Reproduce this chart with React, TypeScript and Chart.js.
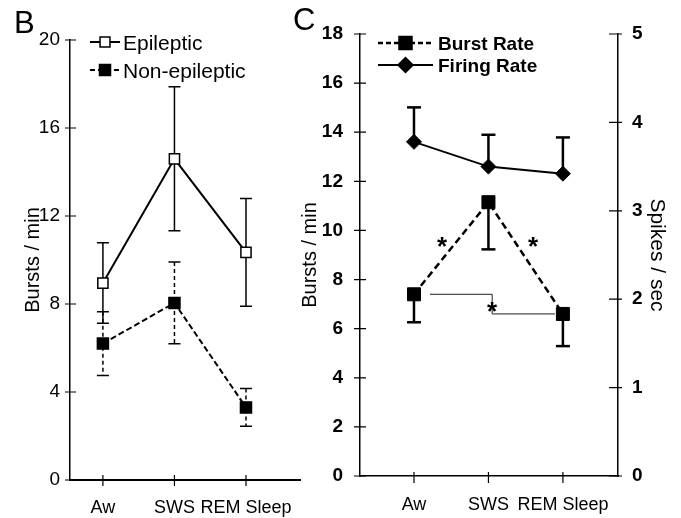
import React, { useEffect, useRef } from "react";
import { Chart, registerables } from "chart.js";

Chart.register(...registerables);

// Sleep–wake stages shared by both panels
const stages = ["Aw", "SWS", "REM Sleep"];
const stagePos = [1, 2, 3];

// Panel B: burst rate by patient group (mean ± SEM, bursts/min)
const epilepticMean = [8.95, 14.6, 10.35];
const epilepticSem = [1.83, 3.27, 2.45];
const nonEpilepticMean = [6.2, 8.05, 3.3];
const nonEpilepticSem = [1.45, 1.86, 0.86];
const burstTicksB = [0, 4, 8, 12, 16, 20];

// Panel C: burst rate (bursts/min, left axis) and firing rate (spikes/sec, right axis)
const burstRate = [7.4, 11.15, 6.6];
const burstRateSem = [1.14, 1.92, 1.31];
const firingRate = [3.78, 3.5, 3.42];
const firingRateSem = [0.39, 0.36, 0.41];
const burstTicksC = [0, 2, 4, 6, 8, 10, 12, 14, 16, 18];
const spikeTicksC = [0, 1, 2, 3, 4, 5];

// Significance marks for panel C (x in stage units, y in bursts/min)
const sigStars = [
  { x: 1.376, y: 9.6 },
  { x: 2.6, y: 9.6 },
  { x: 2.05, y: 6.96 },
];
const sigBracket = { from: 0, to: 2, turnAt: 2.05 };

const FONT = "'Liberation Sans', Arial, Helvetica, sans-serif";
const INK = "#000";

function drawMarker(ctx: any, style: string, x: number, y: number, r: number, fill: string) {
  ctx.save();
  ctx.setLineDash([]);
  ctx.beginPath();
  if (style === "rectRot") {
    ctx.moveTo(x - r, y);
    ctx.lineTo(x, y - r);
    ctx.lineTo(x + r, y);
    ctx.lineTo(x, y + r);
    ctx.closePath();
  } else {
    const h = Math.SQRT1_2 * r;
    ctx.rect(x - h, y - h, 2 * h, 2 * h);
  }
  ctx.fillStyle = fill;
  ctx.fill();
  ctx.lineWidth = 1.5;
  ctx.strokeStyle = INK;
  ctx.stroke();
  ctx.restore();
}

// Vertical error whiskers with caps, drawn beneath the lines and markers
const errorBarsPlugin = {
  id: "errorBars",
  beforeDatasetsDraw(chart: any) {
    const ctx = chart.ctx;
    chart.data.datasets.forEach((ds: any, i: number) => {
      const eb = ds.errorBars;
      if (!eb) return;
      const meta = chart.getDatasetMeta(i);
      const xs = chart.scales[meta.xAxisID];
      const ys = chart.scales[meta.yAxisID];
      ctx.save();
      ctx.strokeStyle = INK;
      ctx.lineWidth = eb.width;
      ds.data.forEach((p: any, j: number) => {
        const e = eb.values[j];
        const x = xs.getPixelForValue(p.x);
        const yTop = ys.getPixelForValue(eb.up ? p.y + e : p.y);
        const yBot = ys.getPixelForValue(eb.down ? p.y - e : p.y);
        ctx.setLineDash(eb.dash || []);
        ctx.beginPath();
        ctx.moveTo(x, yTop);
        ctx.lineTo(x, yBot);
        ctx.stroke();
        ctx.setLineDash([]);
        ctx.lineWidth = eb.capWidth;
        ctx.beginPath();
        if (eb.up) {
          ctx.moveTo(x - eb.cap, yTop);
          ctx.lineTo(x + eb.cap, yTop);
        }
        if (eb.down) {
          ctx.moveTo(x - eb.cap, yBot);
          ctx.lineTo(x + eb.cap, yBot);
        }
        ctx.stroke();
        ctx.lineWidth = eb.width;
      });
      ctx.restore();
    });
  },
};

// Tick marks that cross the axis lines
function crossTicksPlugin(spec: Record<string, [number, number]>) {
  return {
    id: "crossTicks",
    afterDraw(chart: any) {
      const ctx = chart.ctx;
      ctx.save();
      ctx.strokeStyle = INK;
      ctx.lineWidth = 1.2;
      Object.keys(spec).forEach((id) => {
        const s = chart.scales[id];
        if (!s) return;
        const [a, b] = spec[id];
        ctx.beginPath();
        s.ticks.forEach((t: any) => {
          const p = s.getPixelForValue(t.value);
          if (s.isHorizontal()) {
            ctx.moveTo(p, s.top + a);
            ctx.lineTo(p, s.top + b);
          } else {
            const ax = s.position === "left" ? s.right : s.left;
            ctx.moveTo(ax + a, p);
            ctx.lineTo(ax + b, p);
          }
        });
        ctx.stroke();
      });
      ctx.restore();
    },
  };
}

// Key listing each series with its line style and marker
function keyPlugin(cfg: any) {
  return {
    id: "seriesKey",
    afterDraw(chart: any) {
      const ctx = chart.ctx;
      ctx.save();
      chart.data.datasets.forEach((ds: any, i: number) => {
        const y = cfg.rows[i];
        const x0 = cfg.x;
        const x1 = cfg.x + cfg.lineLen;
        ctx.strokeStyle = INK;
        ctx.lineWidth = ds.borderWidth;
        ctx.setLineDash(cfg.dash[i] || []);
        ctx.beginPath();
        ctx.moveTo(x0, y);
        ctx.lineTo(x1, y);
        ctx.stroke();
        drawMarker(ctx, ds.pointStyle, (x0 + x1) / 2, y, cfg.markerR[i], ds.pointBackgroundColor);
        ctx.fillStyle = INK;
        ctx.font = cfg.font;
        ctx.textBaseline = "alphabetic";
        ctx.textAlign = "left";
        ctx.fillText(ds.label, x1 + cfg.textGap, y + cfg.baselineShift);
      });
      ctx.restore();
    },
  };
}

function panelLetterPlugin(letter: string, x: number, y: number) {
  return {
    id: "panelLetter",
    afterDraw(chart: any) {
      const ctx = chart.ctx;
      ctx.save();
      ctx.fillStyle = INK;
      ctx.font = `31px ${FONT}`;
      ctx.textBaseline = "alphabetic";
      ctx.fillText(letter, x, y);
      ctx.restore();
    },
  };
}

// Significance bracket and asterisks on panel C
const significancePlugin = {
  id: "significance",
  afterDatasetsDraw(chart: any) {
    const ctx = chart.ctx;
    const xs = chart.scales.x;
    const ys = chart.scales.y;
    ctx.save();
    ctx.strokeStyle = "#222";
    ctx.lineWidth = 1;
    ctx.setLineDash([]);
    const xa = xs.getPixelForValue(stagePos[sigBracket.from]) + 16;
    const xb = xs.getPixelForValue(stagePos[sigBracket.to]) - 8;
    const xm = xs.getPixelForValue(sigBracket.turnAt);
    const ya = ys.getPixelForValue(burstRate[sigBracket.from]);
    const yb = ys.getPixelForValue(burstRate[sigBracket.to]);
    ctx.beginPath();
    ctx.moveTo(xa, ya);
    ctx.lineTo(xm, ya);
    ctx.lineTo(xm, yb);
    ctx.lineTo(xb, yb);
    ctx.stroke();
    ctx.fillStyle = INK;
    ctx.font = `bold 26px ${FONT}`;
    ctx.textAlign = "center";
    ctx.textBaseline = "alphabetic";
    sigStars.forEach((s) => {
      ctx.fillText("*", xs.getPixelForValue(s.x), ys.getPixelForValue(s.y) + 15);
    });
    ctx.restore();
  },
};

function stageAxis(min: number, max: number, height: number, pad: number, borderWidth: number) {
  return {
    type: "linear",
    min,
    max,
    afterBuildTicks: (s: any) => {
      s.ticks = stagePos.map((v) => ({ value: v }));
    },
    afterFit: (s: any) => {
      s.height = height;
    },
    ticks: {
      autoSkip: false,
      maxRotation: 0,
      padding: pad,
      color: INK,
      font: { family: FONT, size: 18 },
      callback: (_v: any, i: number) => stages[i],
    },
    grid: { display: false, drawTicks: false },
    border: { display: true, color: INK, width: borderWidth },
  };
}

function valueAxis(opts: any) {
  return {
    position: opts.position,
    min: opts.min,
    max: opts.max,
    afterBuildTicks: (s: any) => {
      s.ticks = opts.ticks.map((v: number) => ({ value: v }));
    },
    afterFit: (s: any) => {
      s.width = opts.width;
    },
    ticks: {
      padding: opts.pad,
      color: INK,
      font: { family: FONT, size: 19, weight: opts.bold ? "bold" : "normal" },
    },
    title: {
      display: true,
      text: opts.title,
      color: INK,
      font: { family: FONT, size: opts.titleSize },
      padding: { top: opts.titlePad, bottom: 0 },
    },
    grid: { display: false, drawTicks: false },
    border: { display: true, color: INK, width: 1.5 },
  };
}

const toPoints = (vals: number[]) => vals.map((y, i) => ({ x: stagePos[i], y }));

function PanelB() {
  const ref = useRef<HTMLCanvasElement>(null);
  useEffect(() => {
    const chart = new Chart(ref.current as HTMLCanvasElement, {
      type: "line",
      data: {
        datasets: [
          {
            label: "Epileptic",
            data: toPoints(epilepticMean),
            borderColor: INK,
            borderWidth: 2,
            pointStyle: "rect",
            pointRadius: 7.2,
            pointBackgroundColor: "#fff",
            pointBorderColor: INK,
            pointBorderWidth: 1.5,
            errorBars: { values: epilepticSem, up: true, down: true, width: 1.5, capWidth: 1.5, cap: 6 },
          },
          {
            label: "Non-epileptic",
            data: toPoints(nonEpilepticMean),
            borderColor: INK,
            borderWidth: 2,
            borderDash: [6, 3],
            pointStyle: "rect",
            pointRadius: 7.8,
            pointBackgroundColor: INK,
            pointBorderColor: INK,
            pointBorderWidth: 1.5,
            errorBars: { values: nonEpilepticSem, up: true, down: true, width: 1.5, capWidth: 1.5, cap: 6, dash: [4, 3] },
          },
        ] as any,
      },
      options: {
        responsive: false,
        animation: false,
        events: [],
        layout: { padding: { top: 40, right: 30, left: 0, bottom: 0 } },
        plugins: { legend: { display: false }, tooltip: { enabled: false } },
        scales: {
          x: stageAxis(0.54, 3.755, 38, 17, 2) as any,
          y: valueAxis({
            position: "left",
            min: 0,
            max: 20,
            ticks: burstTicksB,
            width: 70,
            pad: 10,
            bold: false,
            title: "Bursts / min",
            titleSize: 20,
            titlePad: 21,
          }) as any,
        },
      },
      plugins: [
        errorBarsPlugin,
        crossTicksPlugin({ x: [-5, 6], y: [-5, 6] }),
        keyPlugin({
          x: 90,
          lineLen: 30,
          rows: [42, 70],
          dash: [[], [5, 3]],
          markerR: [7, 7.8],
          textGap: 3,
          baselineShift: 8,
          font: `21px ${FONT}`,
        }),
        panelLetterPlugin("B", 14, 33),
      ],
    } as any);
    return () => chart.destroy();
  }, []);
  return (
    <canvas
      ref={ref}
      width={330}
      height={518}
      style={{ position: "absolute", left: 0, top: 0, width: 330, height: 518 }}
    />
  );
}

function PanelC() {
  const ref = useRef<HTMLCanvasElement>(null);
  useEffect(() => {
    const chart = new Chart(ref.current as HTMLCanvasElement, {
      type: "line",
      data: {
        datasets: [
          {
            label: "Burst Rate",
            data: toPoints(burstRate),
            yAxisID: "y",
            borderColor: INK,
            borderWidth: 2.5,
            borderDash: [7, 4],
            pointStyle: "rect",
            pointRadius: 9.2,
            pointBackgroundColor: INK,
            pointBorderColor: INK,
            pointBorderWidth: 1,
            errorBars: { values: burstRateSem, up: false, down: true, width: 2.5, capWidth: 2.5, cap: 7 },
          },
          {
            label: "Firing Rate",
            data: toPoints(firingRate),
            yAxisID: "y2",
            borderColor: INK,
            borderWidth: 2,
            pointStyle: "rectRot",
            pointRadius: 7.5,
            pointBackgroundColor: INK,
            pointBorderColor: INK,
            pointBorderWidth: 1,
            errorBars: { values: firingRateSem, up: true, down: false, width: 2.5, capWidth: 2.5, cap: 7 },
          },
        ] as any,
      },
      options: {
        responsive: false,
        animation: false,
        events: [],
        layout: { padding: { top: 34, right: 0, left: 0, bottom: 0 } },
        plugins: { legend: { display: false }, tooltip: { enabled: false } },
        scales: {
          x: stageAxis(0.275, 3.74, 42, 18, 1.5) as any,
          y: valueAxis({
            position: "left",
            min: 0,
            max: 18,
            ticks: burstTicksC,
            width: 75,
            pad: 17,
            bold: true,
            title: "Bursts / min",
            titleSize: 20,
            titlePad: 13,
          }) as any,
          y2: valueAxis({
            position: "right",
            min: 0,
            max: 5,
            ticks: spikeTicksC,
            width: 63,
            pad: 14,
            bold: true,
            title: "Spikes / sec",
            titleSize: 21,
            titlePad: 11.4,
          }) as any,
        },
      },
      plugins: [
        errorBarsPlugin,
        significancePlugin,
        crossTicksPlugin({ x: [-4, 7], y: [-6, 6], y2: [-9, 4] }),
        keyPlugin({
          x: 93,
          lineLen: 55,
          rows: [43, 65],
          dash: [[5, 3], []],
          markerR: [9.2, 7.5],
          textGap: 5,
          baselineShift: 7,
          font: `bold 19px ${FONT}`,
        }),
        panelLetterPlugin("C", 8, 30),
      ],
    } as any);
    return () => chart.destroy();
  }, []);
  return (
    <canvas
      ref={ref}
      width={396}
      height={518}
      style={{ position: "absolute", left: 285, top: 0, width: 396, height: 518 }}
    />
  );
}

export default function App() {
  return (
    <div
      style={{
        position: "absolute",
        left: 0,
        top: 0,
        width: 681,
        height: 518,
        background: "#fff",
        overflow: "hidden",
      }}
    >
      <PanelB />
      <PanelC />
    </div>
  );
}
